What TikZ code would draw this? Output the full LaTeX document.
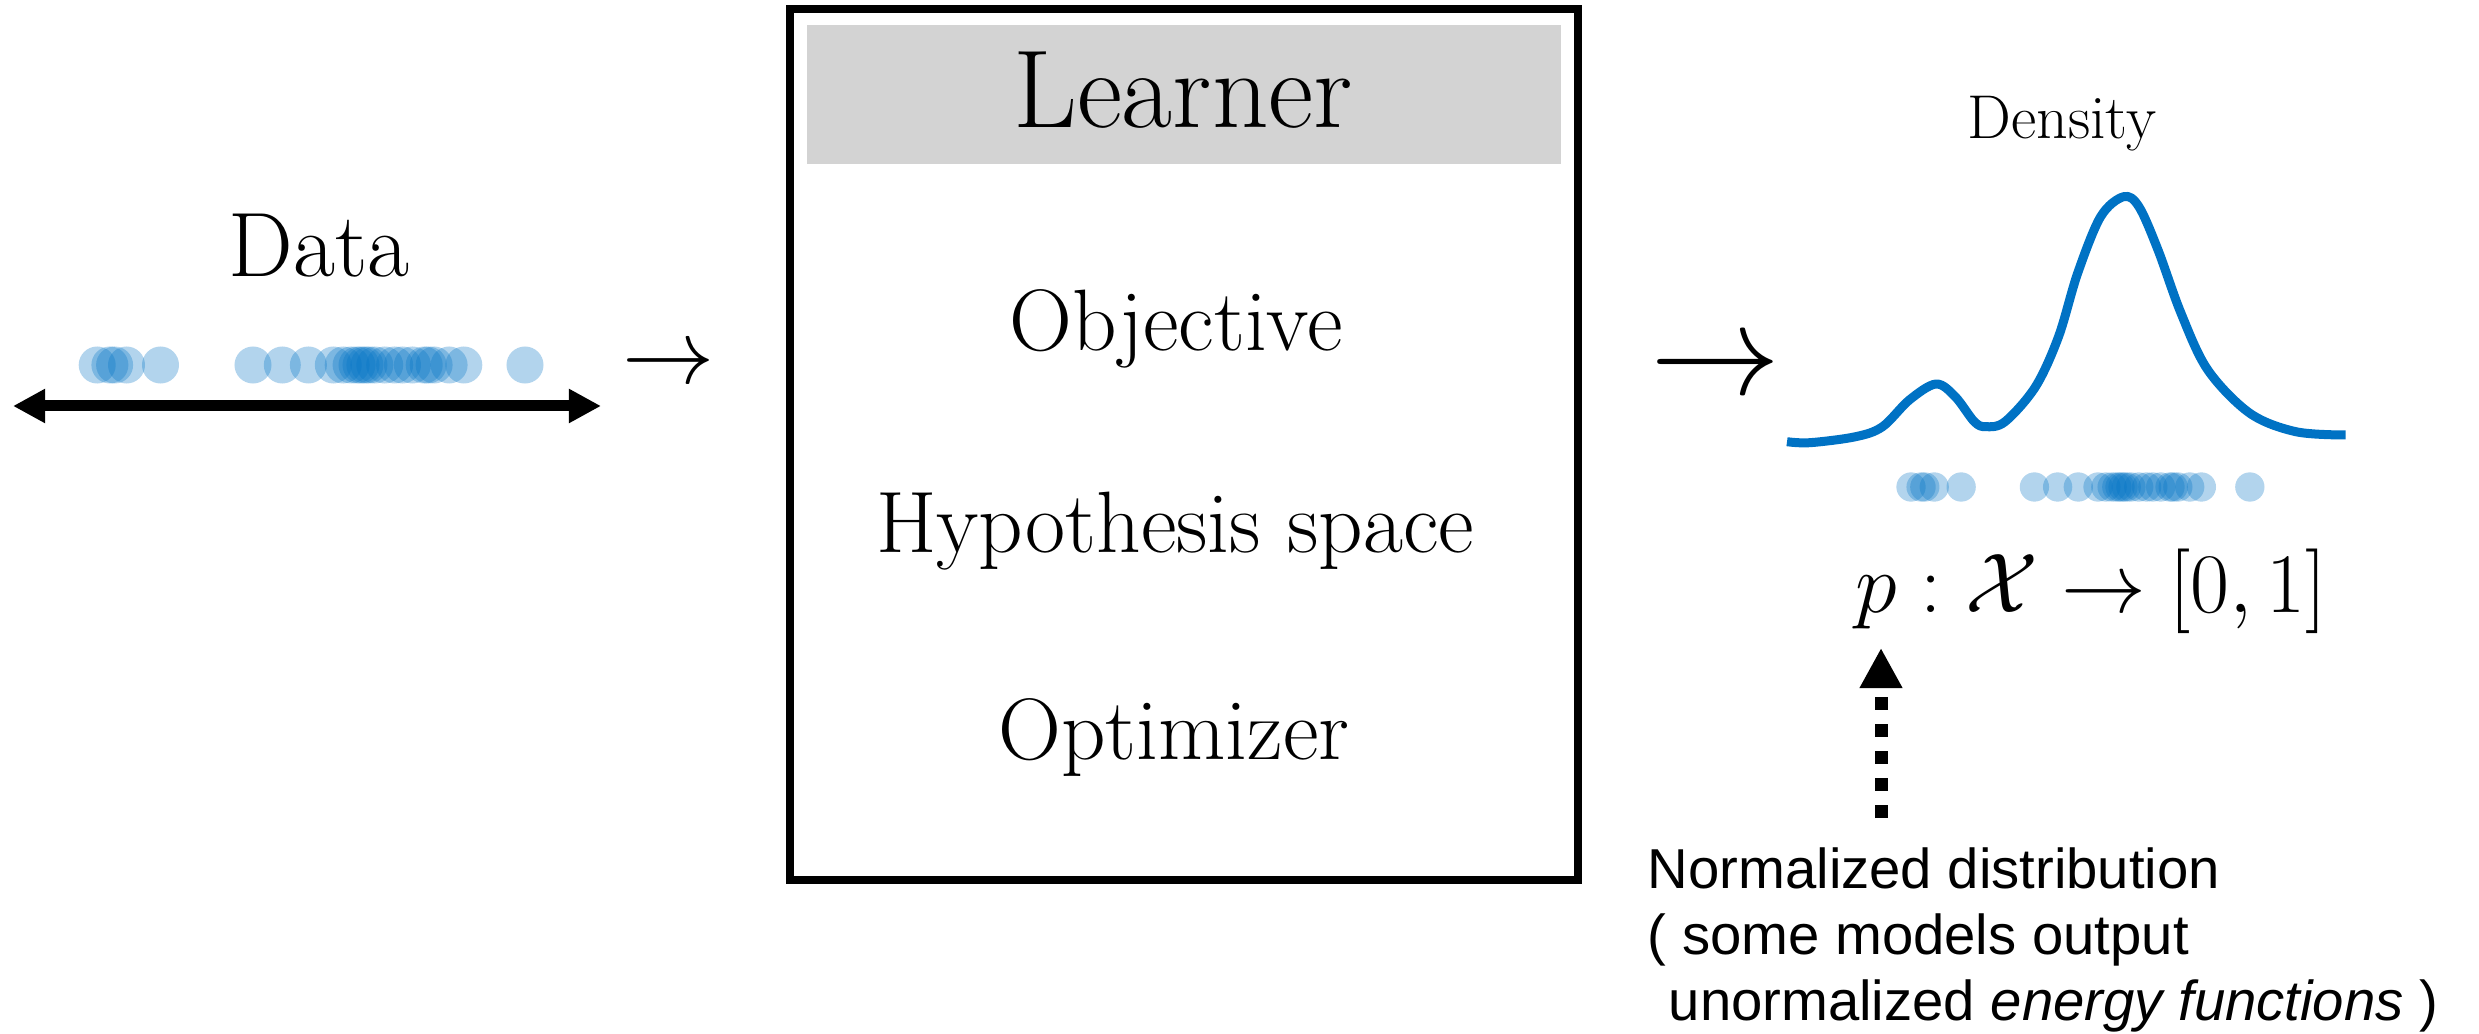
\RequirePackage{fix-cm}
\documentclass[tikz,border=0pt]{standalone}
\usepackage{fontspec}
\newfontfamily\notefont{Liberation Sans}
\usetikzlibrary{arrows.meta}
\definecolor{densblue}{RGB}{0,114,196}
\definecolor{headgray}{RGB}{211,211,211}
\begin{document}
\begin{tikzpicture}[x=0.01cm, y=-0.01cm,
  txt/.style={inner sep=0, anchor=base},
  datadot/.style={fill=densblue, fill opacity=0.3},
  bodyfont/.style={font=\fontsize{24.8}{30}\selectfont},
  notestyle/.style={inner sep=0, anchor=base west, font=\notefont\fontsize{16}{19}\selectfont},
]
\useasboundingbox (0,0) rectangle (2479,1034);

% ---- input data on the real line ----
\node[txt, font=\fontsize{26}{31}\selectfont] (data) at (319,277) {Data};
\foreach \x in {97.2,109.9,114.6,126.5,160.5,253,282.3,308.4,333.3,343.2,351.1,357,361,364.9,368.9,374.8,384.7,394.6,402.5,412.4,424.2,428.2,434.1,449.1,463.8,525}
  \fill[datadot] (\x,365) circle[radius=0.185cm];
\coordinate (axl) at (13,406);
\coordinate (axr) at (601,406);
\draw[line width=0.11cm, {Triangle[length=0.32cm,width=0.32cm]}-{Triangle[length=0.32cm,width=0.32cm]}] (axl) -- (axr);

\node[txt, font=\fontsize{26.2}{30}\selectfont] (toA) at (669,384) {$\rightarrow$};

% ---- learner box ----
\node[draw, line width=0.08cm, minimum width=7.88cm, minimum height=8.71cm, inner sep=0] (learnerbox) at (1184,444.5) {};
\node[fill=headgray, minimum width=7.54cm, minimum height=1.39cm, inner sep=0] (head) at (1184,94.5) {};
\node[txt, font=\fontsize{31.5}{38}\selectfont] (learner) at (1183,128) {Learner};
\node[txt, bodyfont] (obj) at (1176,351) {Objective};
\node[txt, bodyfont] (hyp) at (1175,553) {Hypothesis space};
\node[txt, bodyfont] (opt) at (1174,759) {Optimizer};

\node[txt, font=\fontsize{37}{44}\selectfont] (toB) at (1716,394.5) {$\rightarrow$};

% ---- fitted density ----
\node[txt, font=\fontsize{17.6}{21}\selectfont] (density) at (2062,139) {Density};
\draw[densblue, line width=0.09cm, line join=round] plot[smooth, tension=0.55] coordinates {
  (1787,441.7) (1810,442.7) (1855.7,436.7) (1882.5,426.7) (1909.3,400) (1936,384)
  (1955.2,396.7) (1974.3,421.7) (1985.8,426.7) (2005,421.7) (2035.5,386.7)
  (2058.5,336.7) (2077.6,273.3) (2100.6,216.7) (2123.6,196.7) (2138.9,206.7)
  (2158,250) (2181,313.3) (2207.8,370) (2249.9,413.3) (2295.8,431.7) (2345.5,435)};
\foreach \x in {97.2,109.9,114.6,126.5,160.5,253,282.3,308.4,333.3,343.2,351.1,357,361,364.9,368.9,374.8,384.7,394.6,402.5,412.4,424.2,428.2,434.1,449.1,463.8,525}
  \fill[datadot] ({1911+(\x-97.2)*0.792},487) circle[radius=0.1465cm];

\node[txt, font=\fontsize{24.1}{29}\selectfont] (pmap) at (2091,613) {$p:\mathcal{X}\rightarrow[0,1]$};

% ---- annotation ----
\coordinate (dtail) at (1881,818);
\coordinate (dtip) at (1881,648);
\draw[line width=0.13cm, dash pattern=on 0.127cm off 0.143cm, -{Triangle[length=0.40cm,width=0.40cm]}] (dtail) -- (dtip);
\node[notestyle] (note1) at (1647,888) {Normalized distribution};
\node[notestyle] (note2) at (1647,954) {( some models output};
\node[notestyle] (note3) at (1668,1020) {unormalized \textit{energy functions} )};
\end{tikzpicture}
\end{document}
